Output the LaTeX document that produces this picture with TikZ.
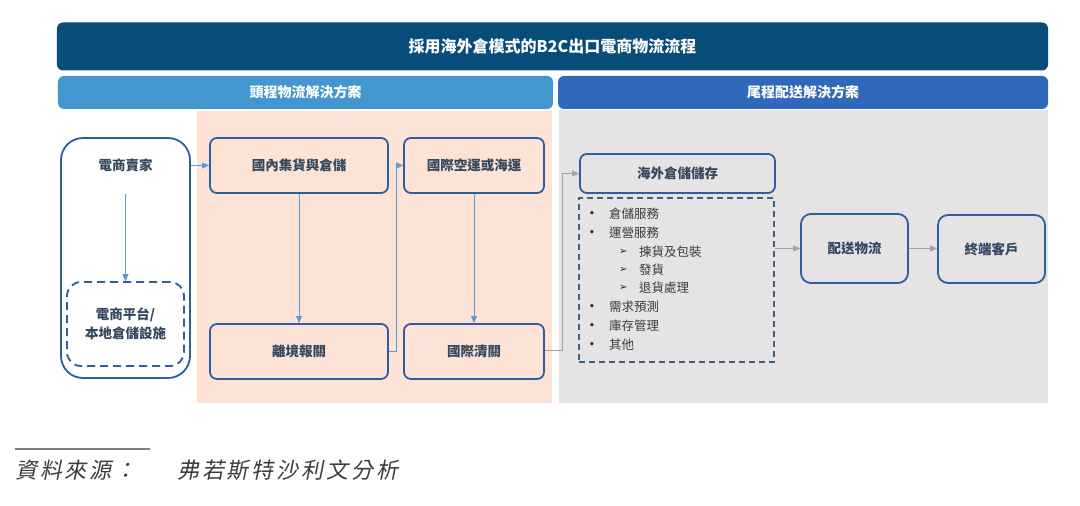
\documentclass[tikz,border=0pt]{standalone}
\usepackage{fontspec}
\setmainfont{Noto Sans CJK TC}
\newfontfamily\cjkit{Noto Sans CJK TC}[FakeSlant=0.2,LetterSpace=13]
\newfontfamily\dvfont{DejaVu Sans}
\usetikzlibrary{arrows.meta}
\definecolor{navy}{HTML}{064D7A}
\definecolor{lblue}{HTML}{4496CE}
\definecolor{mblue}{HTML}{3068BC}
\definecolor{peach}{HTML}{FCE3D6}
\definecolor{lgray}{HTML}{E5E3E4}
\definecolor{boxline}{HTML}{2F5E9E}
\definecolor{boxtext}{HTML}{34475E}
\definecolor{listline}{HTML}{3D6180}
\definecolor{listtext}{HTML}{3C3C3C}
\definecolor{arrblue}{HTML}{5A9BD5}
\definecolor{arrgray}{HTML}{A3A3A3}
\tikzset{
  box/.style={draw=boxline, line width=1.8bp, rounded corners=7bp, font=\bfseries\fontsize{13.5bp}{15bp}\selectfont, text=boxtext, inner sep=0pt},
  dbox/.style={draw=boxline, line width=1.8bp, dash pattern=on 8bp off 5bp, rounded corners=14bp, inner sep=0pt},
  listbox/.style={draw=listline, line width=1.3bp, dash pattern=on 6bp off 4bp, inner sep=0pt},
  itemtxt/.style={font=\fontsize{12.5bp}{14bp}\selectfont, text=listtext, anchor=west, inner sep=0pt},
  bul/.style={itemtxt, font=\dvfont\bfseries\fontsize{9bp}{11bp}\selectfont, text=black!85},
  subarr/.style={itemtxt, font=\dvfont\fontsize{10bp}{12bp}\selectfont, text=black!85},
  bararrow/.style={-{Triangle[length=7bp,width=6bp]}, draw=arrblue, line width=0.9bp},
  grayarrow/.style={-{Triangle[length=7bp,width=6bp]}, draw=arrgray, line width=0.9bp},
  hdr/.style={rounded corners=6bp, inner sep=0pt, text=white, font=\bfseries\fontsize{14bp}{16bp}\selectfont}
}
\begin{document}
\begin{tikzpicture}[x=1bp,y=-1bp]
\useasboundingbox (0,0) rectangle (1080,506);
\fill[white] (0,0) rectangle (1080,506);
% backgrounds
\fill[peach] (197,111) rectangle (552,403);
\fill[lgray] (559,110) rectangle (1048,403);
% headers
\node[hdr, fill=navy, minimum width=991bp, minimum height=48bp, font=\bfseries\fontsize{16bp}{18bp}\selectfont] (title) at (552.5,46.5) {採用海外倉模式的B2C出口電商物流流程};
\node[hdr, fill=lblue, minimum width=495bp, minimum height=33bp] (head1) at (305.5,92.5) {頭程物流解決方案};
\node[hdr, fill=mblue, minimum width=490bp, minimum height=33bp] (head2) at (803,92.5) {尾程配送解決方案};
% seller
\node[box, fill=white, rounded corners=22bp, minimum width=129bp, minimum height=240bp] (seller) at (125.5,258) {};
\node[font=\bfseries\fontsize{13.5bp}{15bp}\selectfont, text=boxtext, inner sep=0pt] (sellertxt) at (125.5,165) {電商賣家};
\node[dbox, fill=white, minimum width=117bp, minimum height=84bp, align=center, font=\bfseries\fontsize{13.5bp}{19bp}\selectfont, text=boxtext] (plat) at (125.5,324) {電商平台/\\本地倉儲設施};
% head-haul boxes
\node[box, fill=peach, minimum width=178bp, minimum height=55bp] (dom) at (299,165.5) {國內集貨與倉儲};
\node[box, fill=peach, minimum width=140bp, minimum height=55bp] (air) at (474,165.5) {國際空運或海運};
\node[box, fill=peach, minimum width=178bp, minimum height=55bp] (dep) at (299,351.5) {離境報關};
\node[box, fill=peach, minimum width=140bp, minimum height=55bp] (clr) at (474,351.5) {國際清關};
% last-mile boxes
\node[box, fill=lgray, minimum width=195bp, minimum height=39bp] (store) at (677.5,173.5) {海外倉儲儲存};
\node[listbox, minimum width=195bp, minimum height=164bp] (list) at (676.5,280) {};
\node[box, fill=lgray, rounded corners=10bp, minimum width=107bp, minimum height=69bp] (dist) at (854.5,248.5) {配送物流};
\node[box, fill=lgray, rounded corners=10bp, minimum width=107bp, minimum height=68bp] (cust) at (991.5,249) {終端客戶};
% list items
\node[bul] (b1) at (589,214) {•};
\node[itemtxt] (t1) at (609,214) {倉儲服務};
\node[bul] (b2) at (589,233) {•};
\node[itemtxt] (t2) at (609,233) {運營服務};
\node[subarr] (s1) at (619,252) {➢};
\node[itemtxt] (u1) at (639,252) {揀貨及包裝};
\node[subarr] (s2) at (619,270) {➢};
\node[itemtxt] (u2) at (639,270) {發貨};
\node[subarr] (s3) at (619,288) {➢};
\node[itemtxt] (u3) at (639,288) {退貨處理};
\node[bul] (b3) at (589,307) {•};
\node[itemtxt] (t3) at (609,307) {需求預測};
\node[bul] (b4) at (589,326) {•};
\node[itemtxt] (t4) at (609,326) {庫存管理};
\node[bul] (b5) at (589,345) {•};
\node[itemtxt] (t5) at (609,345) {其他};
% connectors
\draw[bararrow] ([yshift=-22bp]sellertxt.south) -- (plat.north);
\draw[bararrow] (seller.east |- dom.west) -- (dom.west);
\draw[bararrow] (dom.south) -- (dep.north);
\draw[bararrow] (dep.east) -- ++(8,0) |- (air.west);
\draw[bararrow] (air.south) -- (clr.north);
\draw[grayarrow] ([yshift=1.5bp]clr.east) -- ++(18,0) |- (store.west);
\draw[grayarrow] (list.east |- dist.west) -- (dist.west);
\draw[grayarrow] (dist.east) -- (cust.west |- dist.east);
% footer
\draw[draw=gray, line width=1.5bp] (15,449) coordinate (fl) -- (150,449) coordinate (fr);
\node[anchor=west, inner sep=0pt, font=\cjkit\fontsize{22bp}{24bp}\selectfont, text=listtext] (src) at (15,470) {資料來源：};
\node[anchor=west, inner sep=0pt, font=\cjkit\fontsize{22bp}{24bp}\selectfont, text=listtext] (srcv) at (177,470) {弗若斯特沙利文分析};
\end{tikzpicture}
\end{document}
